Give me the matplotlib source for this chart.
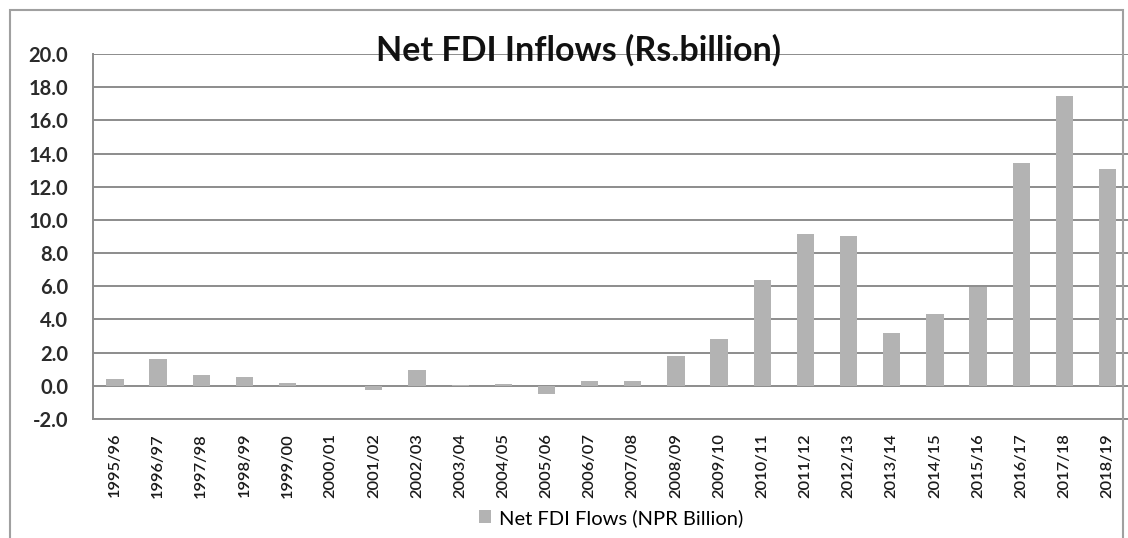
import numpy as np
import matplotlib.pyplot as plt
from matplotlib.patches import Rectangle

# Fiscal years and net FDI inflows (NPR billion)
years = ["1995/96", "1996/97", "1997/98", "1998/99", "1999/00", "2000/01",
         "2001/02", "2002/03", "2003/04", "2004/05", "2005/06", "2006/07",
         "2007/08", "2008/09", "2009/10", "2010/11", "2011/12", "2012/13",
         "2013/14", "2014/15", "2015/16", "2016/17", "2017/18", "2018/19"]
fdi = [0.4, 1.6, 0.66, 0.54, 0.16, -0.02,
       -0.28, 0.96, 0.02, 0.1, -0.5, 0.32,
       0.29, 1.81, 2.83, 6.4, 9.15, 9.05,
       3.2, 4.35, 5.95, 13.45, 17.45, 13.05]
yticks = np.arange(-2.0, 20.1, 2.0)

plt.rcParams['font.family'] = ['Lato', 'DejaVu Sans']

fig = plt.figure(figsize=(11.28, 5.38), dpi=100)
ax = fig.add_axes([93.3 / 1128, 1 - 419 / 538, 1 - 93.3 / 1128 + 0.001, (419 - 54) / 538])

x = np.arange(len(years))
ax.bar(x, fdi, width=0.4, color="#b3b3b3", zorder=3,
       label="Net FDI Flows (NPR Billion)")

ax.set_xlim(-0.5, len(years) - 0.5)
ax.set_ylim(-2, 20)
ax.set_yticks(yticks)
ax.set_yticklabels([f"{v:.1f}" for v in yticks], fontsize=14.5, fontweight="bold",
                   color="#2a2a2a")
ax.set_xticks(x)
ax.set_xticklabels(years, rotation=90, fontsize=11.8, fontweight="semibold",
                   color="#1a1a1a")
ax.tick_params(axis="y", length=0, pad=18)
ax.tick_params(axis="x", length=0, pad=10)

ax.grid(axis="y", color="#8c8c8c", linewidth=1.4, zorder=0)
for side in ["top", "right"]:
    ax.spines[side].set_visible(False)
for side in ["left", "bottom"]:
    ax.spines[side].set_color("#8c8c8c")
    ax.spines[side].set_linewidth(1.4)

fig.text(0.513, 1 - 50 / 538, "Net FDI Inflows (Rs.billion)", ha="center", va="center",
         fontsize=24.5, fontweight="bold", color="#111111")

ax.legend(loc="center", bbox_to_anchor=(0.5, (419 - 518) / 365), frameon=False,
          fontsize=14.5, handlelength=0.6, handleheight=0.6, handletextpad=0.4)

# Outer chart frame (cropped at the bottom)
fig.patches.append(Rectangle((10 / 1128, -0.05), (1123 - 10) / 1128, 1.05 - 10 / 538,
                             transform=fig.transFigure, fill=False,
                             edgecolor="#a0a0a0", linewidth=1.5))

plt.savefig("out.png", dpi=100)
